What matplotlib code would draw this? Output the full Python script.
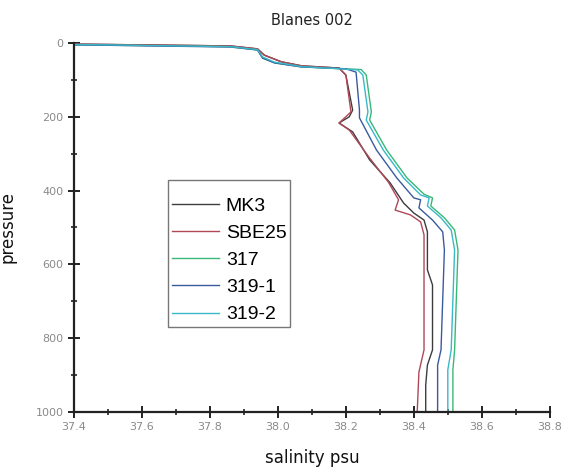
import matplotlib
matplotlib.use('Agg')
import matplotlib.pyplot as plt
from matplotlib.ticker import MultipleLocator, FormatStrFormatter

mk3_p = [3, 8, 16, 33, 51, 62, 68, 87, 182, 200, 217, 241, 317, 379, 434, 461, 480, 512, 615, 656, 832, 873, 927, 1000]
mk3_s = [37.40, 37.86, 37.94, 37.96, 38.01, 38.07, 38.18, 38.20, 38.22, 38.21, 38.18, 38.22, 38.27, 38.33, 38.37, 38.40, 38.43, 38.44, 38.44, 38.455, 38.455, 38.44, 38.435, 38.435]

sbe_p = [3, 8, 16, 33, 51, 62, 68, 87, 187, 217, 236, 312, 377, 425, 453, 466, 485, 520, 642, 832, 892, 1000]
sbe_s = [37.40, 37.86, 37.94, 37.96, 38.01, 38.07, 38.18, 38.20, 38.215, 38.18, 38.21, 38.27, 38.325, 38.355, 38.345, 38.39, 38.42, 38.43, 38.43, 38.43, 38.415, 38.41]

s317_p = [5, 10, 19, 41, 54, 65, 72, 87, 187, 209, 290, 366, 410, 420, 442, 474, 507, 561, 696, 832, 886, 1000]
s317_s = [37.40, 37.86, 37.94, 37.955, 37.99, 38.07, 38.245, 38.26, 38.275, 38.27, 38.32, 38.38, 38.43, 38.455, 38.45, 38.49, 38.52, 38.53, 38.525, 38.52, 38.515, 38.515]

s3191_p = [5, 11, 19, 41, 54, 65, 70, 79, 182, 203, 290, 366, 420, 425, 447, 480, 512, 561, 696, 832, 873, 1000]
s3191_s = [37.40, 37.86, 37.94, 37.955, 37.99, 38.07, 38.20, 38.23, 38.24, 38.24, 38.29, 38.35, 38.40, 38.42, 38.415, 38.455, 38.485, 38.49, 38.485, 38.48, 38.47, 38.47]

s3192_p = [4, 10, 18, 38, 52, 64, 73, 87, 187, 209, 290, 366, 412, 420, 442, 474, 507, 561, 696, 832, 886, 1000]
s3192_s = [37.40, 37.86, 37.94, 37.955, 37.99, 38.07, 38.235, 38.25, 38.265, 38.26, 38.31, 38.37, 38.42, 38.445, 38.44, 38.48, 38.51, 38.52, 38.515, 38.51, 38.50, 38.50]

labels = ['MK3', 'SBE25', '317', '319-1', '319-2']
colors = ['#3c3c3c', '#b04858', '#38b878', '#3a5aa0', '#38b8c8']

# --- 2. CREATE THE PLOT ---
fig = plt.figure(figsize=(5.65, 4.67), dpi=100)
ax = fig.add_axes([0.131, 0.118, 0.842, 0.790])

series = [(mk3_s, mk3_p), (sbe_s, sbe_p), (s317_s, s317_p), (s3191_s, s3191_p), (s3192_s, s3192_p)]
for (s, p), lab, col in zip(series, labels, colors):
    ax.plot(s, p, color=col, linewidth=1.0, label=lab)

ax.set_xlim(37.4, 38.8)
ax.set_ylim(1000, 0)
ax.xaxis.set_major_locator(MultipleLocator(0.2))
ax.xaxis.set_minor_locator(MultipleLocator(0.1))
ax.yaxis.set_major_locator(MultipleLocator(200))
ax.yaxis.set_minor_locator(MultipleLocator(100))
ax.xaxis.set_major_formatter(FormatStrFormatter('%.1f'))

for side in ['top', 'right']:
    ax.spines[side].set_visible(False)
for side in ['left', 'bottom']:
    ax.spines[side].set_linewidth(1.6)
    ax.spines[side].set_color('#222222')

ax.tick_params(which='major', direction='inout', length=8, width=1.4, color='#222222',
               labelsize=8, labelcolor='#8a8a8a')
ax.tick_params(which='minor', direction='inout', length=5, width=1.2, color='#222222')

ax.set_title('Blanes 002', fontsize=10.5, color='#222222', pad=13)
ax.set_xlabel('salinity psu', fontsize=12, color='#111111', labelpad=12)
ax.set_ylabel('pressure', fontsize=12, color='#111111')
ax.yaxis.set_label_coords(-0.12, 0.5)

# blank title just leaves the extra room above the first entry
leg = ax.legend(loc='upper left', bbox_to_anchor=(0.198, 0.629),
                prop={'family': 'Liberation Sans', 'size': 14},
                title=' ', title_fontsize=3,
                frameon=True, fancybox=False, handlelength=2.4, labelspacing=0.49,
                borderpad=0.2, handletextpad=0.36, borderaxespad=0)
leg.get_frame().set_edgecolor('#555555')
leg.get_frame().set_linewidth(1.0)

# --- 3. SAVE ---
fig.savefig('out.png', dpi=100)
